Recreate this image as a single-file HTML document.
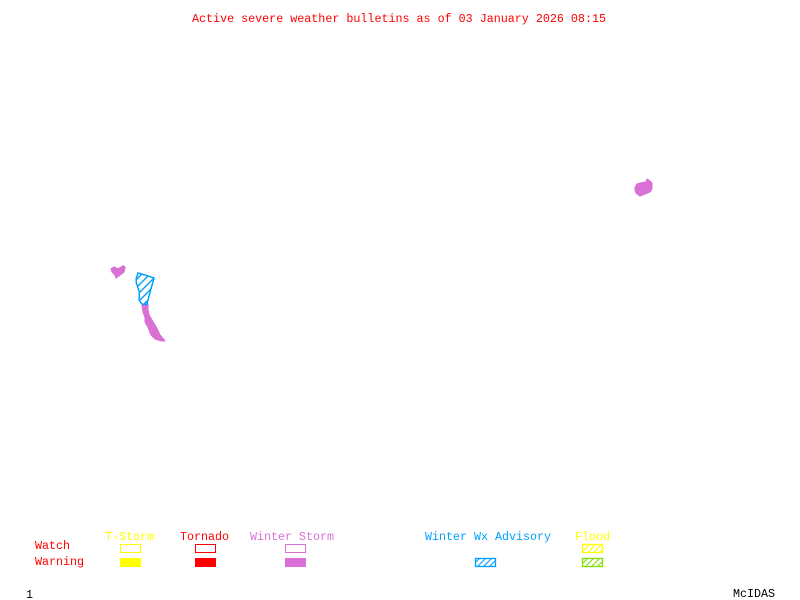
<!DOCTYPE html>
<html>
<head>
<meta charset="utf-8">
<style>
html,body{margin:0;padding:0;background:#fff;width:800px;height:600px;overflow:hidden}
svg{display:block}
text{font-family:"Liberation Mono",monospace;font-size:11.67px}
</style>
</head>
<body>
<svg width="800" height="600" viewBox="0 0 800 600" xmlns="http://www.w3.org/2000/svg">
<defs>
<pattern id="hb" width="8" height="8" patternUnits="userSpaceOnUse">
<path d="M-1 9L9 -1M-1 1L1 -1M7 9L9 7" stroke="#00a0ff" stroke-width="1.4" fill="none"/>
</pattern>
<pattern id="hy" width="6" height="6" patternUnits="userSpaceOnUse">
<path d="M-1 7L7 -1M-1 1L1 -1M5 7L7 5" stroke="#ffff00" stroke-width="1.1" fill="none"/>
</pattern>
<pattern id="hg" width="6" height="6" patternUnits="userSpaceOnUse">
<path d="M-1 7L7 -1M-1 1L1 -1M5 7L7 5" stroke="#7fdf00" stroke-width="1.1" fill="none"/>
</pattern>
<pattern id="hl" width="6" height="6" patternUnits="userSpaceOnUse">
<path d="M-1 7L7 -1M-1 1L1 -1M5 7L7 5" stroke="#00a0ff" stroke-width="1.1" fill="none"/>
</pattern>
</defs>

<text x="192" y="22" fill="#ff0000" textLength="414" lengthAdjust="spacingAndGlyphs">Active severe weather bulletins as of 03 January 2026 08:15</text>

<g fill="#da70d6" stroke="#da70d6" stroke-width="1.2" stroke-linejoin="round" shape-rendering="crispEdges">
<polygon points="635,188 637,184 641,183 646,182 647,179 650,181 652,183 652,188 650,192 645,194 640,196 636,193 635,190"/>
<polygon points="111,269 114,267 118,269 123,266 125,267 124,272 120,275 116,278 115,275 112,272"/>
<polygon points="142,304 148,304 148,310 149,315 155,325 160,335 165,341 162,341 155,339 151,335 148,327 145,322 145,317 143,312"/>
</g>
<polygon points="138,273 136,279 136,282 139,291 139,300 142,304 147,304 149,296 154,278 145,275" fill="url(#hb)" stroke="#00a0ff" stroke-width="1.5" shape-rendering="crispEdges"/>

<g>
<text x="105" y="540" fill="#ffff00" textLength="49" lengthAdjust="spacingAndGlyphs">T-Storm</text>
<text x="180" y="540" fill="#ff0000" textLength="49" lengthAdjust="spacingAndGlyphs">Tornado</text>
<text x="250" y="540" fill="#da70d6" textLength="84" lengthAdjust="spacingAndGlyphs">Winter Storm</text>
<text x="425" y="540" fill="#00a0ff" textLength="126" lengthAdjust="spacingAndGlyphs">Winter Wx Advisory</text>
<text x="575" y="540" fill="#ffff00" textLength="35" lengthAdjust="spacingAndGlyphs">Flood</text>
<text x="35" y="549" fill="#ff0000" textLength="35" lengthAdjust="spacingAndGlyphs">Watch</text>
<text x="35" y="565" fill="#ff0000" textLength="49" lengthAdjust="spacingAndGlyphs">Warning</text>
<text x="26" y="598" fill="#000000">1</text>
<text x="733" y="597" fill="#000000" textLength="42" lengthAdjust="spacingAndGlyphs">McIDAS</text>
</g>

<g shape-rendering="crispEdges">
<rect x="120.5" y="544.5" width="20" height="8" fill="none" stroke="#ffff00"/>
<rect x="195.5" y="544.5" width="20" height="8" fill="none" stroke="#ff0000"/>
<rect x="285.5" y="544.5" width="20" height="8" fill="none" stroke="#da70d6"/>
<rect x="120" y="558" width="21" height="9" fill="#ffff00"/>
<rect x="195" y="558" width="21" height="9" fill="#ff0000"/>
<rect x="285" y="558" width="21" height="9" fill="#da70d6"/>
</g>
<rect x="582.5" y="544.5" width="20" height="8" fill="url(#hy)" stroke="#ffff00" stroke-width="1.3"/>
<rect x="475.5" y="558.5" width="20" height="8" fill="url(#hl)" stroke="#00a0ff" stroke-width="1.3"/>
<rect x="582.5" y="558.5" width="20" height="8" fill="url(#hg)" stroke="#7fdf00" stroke-width="1.3"/>
</svg>
</body>
</html>
